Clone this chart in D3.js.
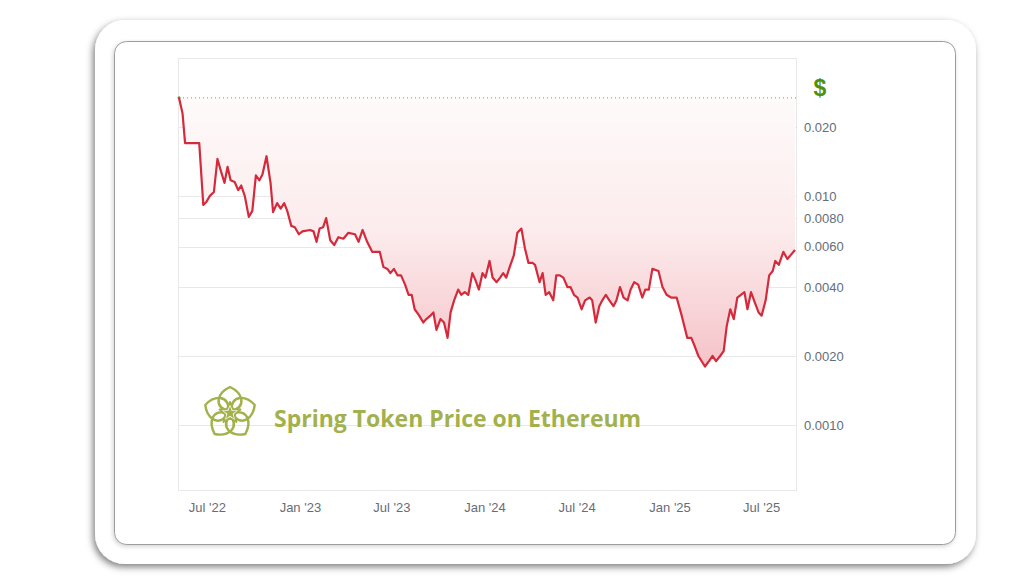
<!DOCTYPE html>
<html>
<head>
<meta charset="utf-8">
<script src="https://cdn.jsdelivr.net/npm/d3@7"></script>
<style>
  html, body { margin: 0; padding: 0; background: #fff; }
  svg { display: block; }
</style>
</head>
<body>
<svg id="chart" width="1024" height="576"></svg>
<script>
// weekly-ish price samples
var dates = [
  "2022-05-07","2022-05-14","2022-05-19","2022-06-16","2022-06-24","2022-06-30","2022-07-07","2022-07-15","2022-07-22","2022-07-29",
  "2022-08-05","2022-08-11","2022-08-17","2022-08-25","2022-09-01","2022-09-07","2022-09-14","2022-09-22","2022-09-29","2022-10-06",
  "2022-10-13","2022-10-19","2022-10-27","2022-11-04","2022-11-09","2022-11-17","2022-11-24","2022-12-01","2022-12-07","2022-12-15",
  "2022-12-22","2022-12-30","2023-01-06","2023-01-21","2023-01-28","2023-02-03","2023-02-09","2023-02-16","2023-02-22","2023-03-02",
  "2023-03-10","2023-03-18","2023-03-28","2023-04-07","2023-04-20","2023-04-27","2023-05-05","2023-05-14","2023-05-24","2023-06-08",
  "2023-06-15","2023-06-23","2023-06-29","2023-07-06","2023-07-13","2023-07-20","2023-07-28","2023-08-04","2023-08-10","2023-08-16",
  "2023-08-25","2023-09-02","2023-09-08","2023-09-16","2023-09-22","2023-09-28","2023-10-06","2023-10-13","2023-10-20","2023-10-26",
  "2023-11-02","2023-11-10","2023-11-16","2023-11-23","2023-11-30","2023-12-08","2023-12-14","2023-12-21","2023-12-28","2024-01-03",
  "2024-01-11","2024-01-17","2024-01-25","2024-02-01","2024-02-07","2024-02-13","2024-02-20","2024-02-28","2024-03-06","2024-03-14",
  "2024-03-21","2024-03-28","2024-04-05","2024-04-10","2024-04-19","2024-04-25","2024-05-01","2024-05-08","2024-05-16","2024-05-22",
  "2024-05-29","2024-06-05","2024-06-13","2024-06-19","2024-06-26","2024-07-03","2024-07-11","2024-07-18","2024-07-27","2024-08-01",
  "2024-08-08","2024-08-15","2024-08-21","2024-08-28","2024-09-04","2024-09-12","2024-09-18","2024-09-25","2024-10-02","2024-10-10",
  "2024-10-16","2024-10-23","2024-10-31","2024-11-08","2024-11-14","2024-11-21","2024-11-28","2024-12-10","2024-12-18","2024-12-26",
  "2025-01-04","2025-01-15","2025-01-25","2025-02-05","2025-02-13","2025-02-20","2025-02-27","2025-03-12","2025-03-20","2025-03-27",
  "2025-04-03","2025-04-11","2025-04-18","2025-04-24","2025-05-01","2025-05-08","2025-05-15","2025-05-22","2025-05-29","2025-06-04",
  "2025-06-11","2025-06-19","2025-06-26","2025-07-02","2025-07-10","2025-07-17","2025-07-24","2025-07-29","2025-08-05","2025-08-14",
  "2025-08-22","2025-08-28","2025-09-06"
];

var prices = [
  0.0268,0.0229,0.0170,0.0170,0.00914,0.0094,0.0100,0.0104,0.0145,0.0128,
  0.0114,0.0134,0.0117,0.0115,0.0106,0.0111,0.0100,0.0081,0.0086,0.0123,
  0.0117,0.0124,0.0149,0.0114,0.0085,0.0093,0.0088,0.0093,0.0086,0.0074,
  0.0073,0.0068,0.0070,0.0071,0.0070,0.0063,0.0072,0.0073,0.0080,0.0064,
  0.0061,0.0066,0.0065,0.0069,0.0068,0.0063,0.0071,0.0063,0.0057,0.0057,
  0.0049,0.0048,0.0046,0.0048,0.0045,0.0045,0.0041,0.0037,0.0037,0.0032,
  0.0030,0.0028,0.0029,0.0030,0.0031,0.0026,0.0029,0.0028,0.0024,0.0031,
  0.0035,0.0039,0.0037,0.0038,0.0037,0.0046,0.0043,0.0039,0.0046,0.0044,
  0.0052,0.0044,0.0042,0.0044,0.0046,0.0044,0.0049,0.0055,0.0069,0.0072,
  0.0059,0.0051,0.0051,0.0050,0.0042,0.0046,0.0037,0.0038,0.0035,0.0045,
  0.0045,0.0044,0.0040,0.0040,0.0037,0.0036,0.0032,0.0035,0.0036,0.0035,
  0.0028,0.0033,0.0035,0.0037,0.0035,0.0033,0.0035,0.0040,0.0036,0.0035,
  0.0039,0.0042,0.0041,0.0036,0.0039,0.0039,0.0048,0.0047,0.0040,0.0037,
  0.0036,0.0036,0.0030,0.0024,0.0024,0.0022,0.0020,0.0018,0.0019,0.0020,
  0.0019,0.0020,0.0021,0.0027,0.0032,0.0029,0.0036,0.0037,0.0038,0.0032,
  0.0038,0.0034,0.0031,0.0030,0.0035,0.0045,0.0047,0.0052,0.0050,0.0057,
  0.0053,0.0055,0.0058
];

var yTicks = [0.020, 0.010, 0.0080, 0.0060, 0.0040, 0.0020, 0.0010];
var yTickLabels = ["0.020", "0.010", "0.0080", "0.0060", "0.0040", "0.0020", "0.0010"];
var xStart = "2022-05-05", xEnd = "2025-09-08";
var yMin = 0.00052, yMax = 0.040;
var title = "Spring Token Price on Ethereum";

var parse = d3.timeParse("%Y-%m-%d");
var data = dates.map(function(d, i) { return {date: parse(d), v: prices[i]}; });

var svg = d3.select("#chart");
var plot = {left: 178, right: 796, top: 58, bottom: 490};

var x = d3.scaleTime()
    .domain([parse(xStart), parse(xEnd)])
    .range([plot.left, plot.right]);
var y = d3.scaleLog()
    .domain([yMin, yMax])
    .range([plot.bottom, plot.top]);

var defs = svg.append("defs");

var outerShadow = defs.append("filter").attr("id", "outerShadow")
    .attr("x", "-10%").attr("y", "-10%").attr("width", "120%").attr("height", "125%");
outerShadow.append("feDropShadow")
    .attr("dx", -2).attr("dy", 3).attr("stdDeviation", 3.5)
    .attr("flood-color", "#000").attr("flood-opacity", 0.5);

var innerShadow = defs.append("filter").attr("id", "innerShadow")
    .attr("x", "-5%").attr("y", "-5%").attr("width", "110%").attr("height", "112%");
innerShadow.append("feDropShadow")
    .attr("dx", -1).attr("dy", 1.5).attr("stdDeviation", 2)
    .attr("flood-color", "#000").attr("flood-opacity", 0.18);

var grad = defs.append("linearGradient").attr("id", "areaGrad")
    .attr("gradientUnits", "userSpaceOnUse")
    .attr("x1", 0).attr("x2", 0)
    .attr("y1", y(d3.max(prices))).attr("y2", y(0.0018));
grad.append("stop").attr("offset", "0%").attr("stop-color", "#fefafa");
grad.append("stop").attr("offset", "50%").attr("stop-color", "#fcebec");
grad.append("stop").attr("offset", "100%").attr("stop-color", "#f5c3c8");

// frame
svg.append("rect")
    .attr("x", 95).attr("y", 20).attr("width", 881).attr("height", 544)
    .attr("rx", 30).attr("ry", 30)
    .attr("fill", "#fff")
    .attr("filter", "url(#outerShadow)");

svg.append("rect")
    .attr("x", 114.5).attr("y", 41.5).attr("width", 841).attr("height", 503)
    .attr("rx", 12).attr("ry", 12)
    .attr("fill", "#fff")
    .attr("stroke", "#9c9c9c")
    .attr("stroke-width", 1)
    .attr("filter", "url(#innerShadow)");

// plot box
svg.append("rect")
    .attr("x", plot.left + 0.5).attr("y", plot.top + 0.5)
    .attr("width", plot.right - plot.left).attr("height", plot.bottom - plot.top)
    .attr("fill", "none")
    .attr("stroke", "#e8e8e8");

// gridlines
svg.append("g")
    .selectAll("line")
    .data(yTicks)
  .enter().append("line")
    .attr("x1", plot.left).attr("x2", plot.right)
    .attr("y1", function(d) { return Math.round(y(d)) + 0.5; })
    .attr("y2", function(d) { return Math.round(y(d)) + 0.5; })
    .attr("stroke", "#e8e8e8")
    .attr("stroke-width", 1);

// area between ATH line and price
var ath = d3.max(prices);
var area = d3.area()
    .x(function(d) { return x(d.date); })
    .y0(y(ath))
    .y1(function(d) { return y(d.v); });

svg.append("path")
    .datum(data)
    .attr("d", area)
    .attr("fill", "url(#areaGrad)");

// ATH dotted line
svg.append("line")
    .attr("x1", x(data[0].date)).attr("x2", plot.right)
    .attr("y1", y(ath)).attr("y2", y(ath))
    .attr("stroke", "#8a8a8a")
    .attr("stroke-width", 1)
    .attr("stroke-dasharray", "1,3");

svg.append("circle")
    .attr("cx", x(data[0].date)).attr("cy", y(ath))
    .attr("r", 1.5)
    .attr("fill", "#5a9a2a");

// price line
var line = d3.line()
    .x(function(d) { return x(d.date); })
    .y(function(d) { return y(d.v); });

svg.append("path")
    .datum(data)
    .attr("d", line)
    .attr("fill", "none")
    .attr("stroke", "#d42a3b")
    .attr("stroke-width", 2.2)
    .attr("stroke-linejoin", "round");

// y axis labels (right side)
var yAxis = d3.axisRight(y)
    .tickValues(yTicks)
    .tickFormat(function(d, i) { return yTickLabels[i]; })
    .tickSize(0)
    .tickPadding(0);

var gy = svg.append("g")
    .attr("transform", "translate(" + (plot.right + 8) + ",0)")
    .call(yAxis);
gy.select(".domain").remove();
gy.selectAll("text")
    .attr("fill", "#666d78")
    .style("font-family", "'Liberation Sans', Arial, sans-serif")
    .style("font-size", "13px");

svg.append("text")
    .attr("x", 820).attr("y", 96)
    .attr("text-anchor", "middle")
    .attr("fill", "#4f8f0c")
    .style("font-family", "'Liberation Sans', Arial, sans-serif")
    .style("font-weight", "bold")
    .style("font-size", "23px")
    .text("$");

// x axis labels
var xAxis = d3.axisBottom(x)
    .ticks(d3.timeMonth.every(6))
    .tickFormat(d3.timeFormat("%b '%y"))
    .tickSize(0)
    .tickPadding(0);

var gx = svg.append("g")
    .attr("transform", "translate(0," + (plot.bottom + 13) + ")")
    .call(xAxis);
gx.select(".domain").remove();
gx.selectAll("text")
    .attr("fill", "#666d78")
    .style("font-family", "'Liberation Sans', Arial, sans-serif")
    .style("font-size", "13px");

// logo + title
var logo = svg.append("g")
    .attr("transform", "translate(230,413)")
    .attr("fill", "none")
    .attr("stroke", "#a2b14a")
    .attr("stroke-width", 2.4)
    .attr("stroke-linejoin", "round");

for (var i = 0; i < 5; i++) {
  logo.append("path")
      .attr("d", "M0,-1 C-19,-7 -11,-21 0,-26 C11,-21 19,-7 0,-1 Z")
      .attr("transform", "rotate(" + (i * 72) + ")");
}

function starPoints(ro, ri) {
  var pts = [];
  for (var k = 0; k < 10; k++) {
    var r = (k % 2 == 0) ? ro : ri;
    var th = -Math.PI / 2 + k * Math.PI / 5;
    pts.push([r * Math.cos(th), r * Math.sin(th)]);
  }
  return pts.map(function(p) { return p.join(","); }).join(" ");
}
logo.append("polygon")
    .attr("points", starPoints(11, 5))
    .attr("fill", "#fff")
    .attr("stroke-width", 2);
logo.append("polygon")
    .attr("points", starPoints(7, 2.8))
    .attr("fill", "#a2b14a")
    .attr("stroke", "none");

svg.append("text")
    .attr("x", 274).attr("y", 427)
    .attr("fill", "#a3b14c")
    .style("font-family", "'Open Sans', sans-serif")
    .style("font-weight", "bold")
    .style("font-size", "23px")
    .text(title);
</script>
</body>
</html>
